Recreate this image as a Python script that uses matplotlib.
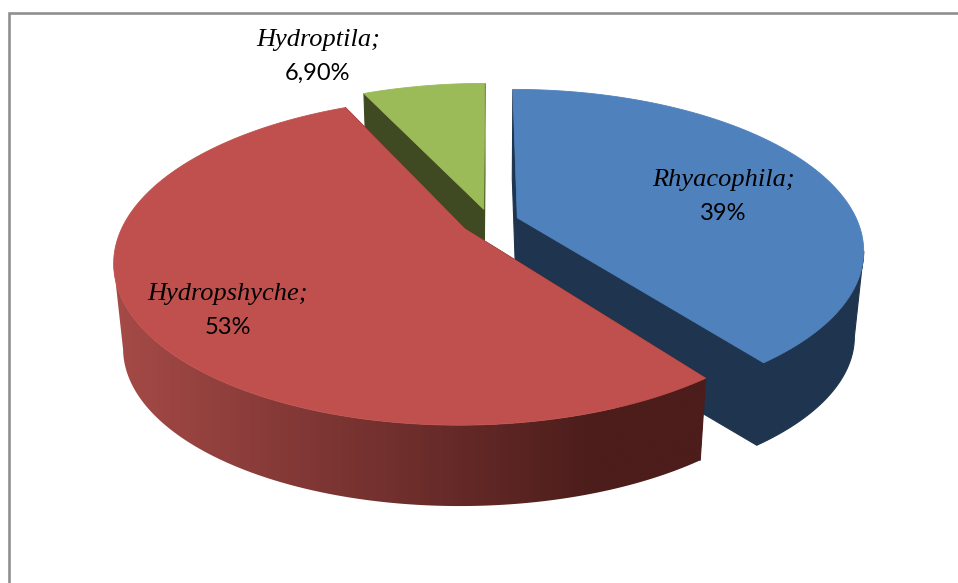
import numpy as np
import matplotlib
matplotlib.use("Agg")
import matplotlib.pyplot as plt
from matplotlib.colors import LinearSegmentedColormap
from matplotlib.patches import Polygon

# Data (labels are rounded; wedge sizes)
categories = ["Rhyacophila", "Hydropshyche", "Hydroptila"]
values = [39.4, 52.9, 6.9]
value_labels = ["39%", "53%", "6,90%"]

# Style and layout
top_colors = ["#4F81BD", "#C0504D", "#9BBB59"]
wall_colors = ["#1F344E", "#4C1D1B", "#3F4A22"]
label_centers = [(723, 180, 213), (228, 294, 328), (318, 40, 73)]
CX, CY, RX, RY, K = 490, 222, 340.5, 155, 0.195
EXPLODE, SHRINK, DEPTH = 0.085, 0.975, 86

plt.rcParams["font.family"] = ["Liberation Serif", "DejaVu Sans"]
fig = plt.figure(figsize=(9.58, 5.83), dpi=100)
ax = fig.add_axes([0, 0, 1, 1])
ax.set_xlim(0, 958)
ax.set_ylim(583, 0)
ax.axis("off")

ax.plot([9.5, 9.5, 958], [583, 13, 13], color="#8F8F8F", lw=1.9, solid_joinstyle="miter", zorder=1)


def project(u, v, lower=False):
    u, v = np.asarray(u, float), np.asarray(v, float)
    w = 1 + K * v
    dx, dy = RX * u / w, -RY * v / w
    if lower:
        return CX + dx * SHRINK, CY + dy * SHRINK + DEPTH
    return CX + dx, CY + dy


shares = np.array(values) / np.sum(values)
edges = np.concatenate([[0], np.cumsum(shares)]) * 2 * np.pi

# horizontal shading of the red outer wall: stops over x from 100 to 720
red_cmap = LinearSegmentedColormap.from_list(
    "redwall",
    [(0.0, "#A84C48"), (0.32, "#823836"), (0.8, "#4C1D1B"), (1.0, "#4C1D1B")],
)

z = 2
for i in (0, 2, 1):
    a0, a1 = edges[i], edges[i + 1]
    mid = (a0 + a1) / 2
    eu, ev = EXPLODE * np.sin(mid), EXPLODE * np.cos(mid)
    th = np.linspace(a0, a1, 400)
    u, v = eu + np.sin(th), ev + np.cos(th)
    tx, ty = project(u, v)
    bx, by = project(u, v, True)
    ax0, ay0 = project(eu, ev)
    bx0, by0 = project(eu, ev, True)
    # radial walls
    for j in (0, -1):
        ax.fill([ax0, tx[j], bx[j], bx0], [ay0, ty[j], by[j], by0],
                color=wall_colors[i], lw=0.8, zorder=z)
    # outer wall: only the part of the rim that faces the viewer
    front = np.gradient(tx) < 0
    if front.any():
        wall_xy = np.c_[np.r_[tx[front], bx[front][::-1]], np.r_[ty[front], by[front][::-1]]]
        if i == 1:
            poly = Polygon(wall_xy, closed=True, facecolor="none", edgecolor="none", transform=ax.transData)
            ax.add_patch(poly)
            im = ax.imshow(np.linspace(0, 1, 512)[None, :], cmap=red_cmap, extent=(100, 720, 520, 100),
                           aspect="auto", interpolation="bilinear", zorder=z)
            im.set_clip_path(poly)
            ax.set_xlim(0, 958)
            ax.set_ylim(583, 0)
        else:
            ax.fill(wall_xy[:, 0], wall_xy[:, 1], color=wall_colors[i], lw=0.8, zorder=z)
    # top face
    ax.fill(np.r_[ax0, tx], np.r_[ay0, ty], color=top_colors[i], lw=0.6, zorder=z + 1)
    z += 2

for name, lab, (x, y1, y2) in zip(categories, value_labels, label_centers):
    ax.text(x, y1, name + ";", family="Liberation Serif", style="italic", fontsize=19,
            ha="center", va="center", color="black", zorder=20)
    ax.text(x, y2, lab, family="Lato", fontsize=17, ha="center", va="center", color="black", zorder=20)

fig.savefig("out.png", dpi=100, facecolor="white")
